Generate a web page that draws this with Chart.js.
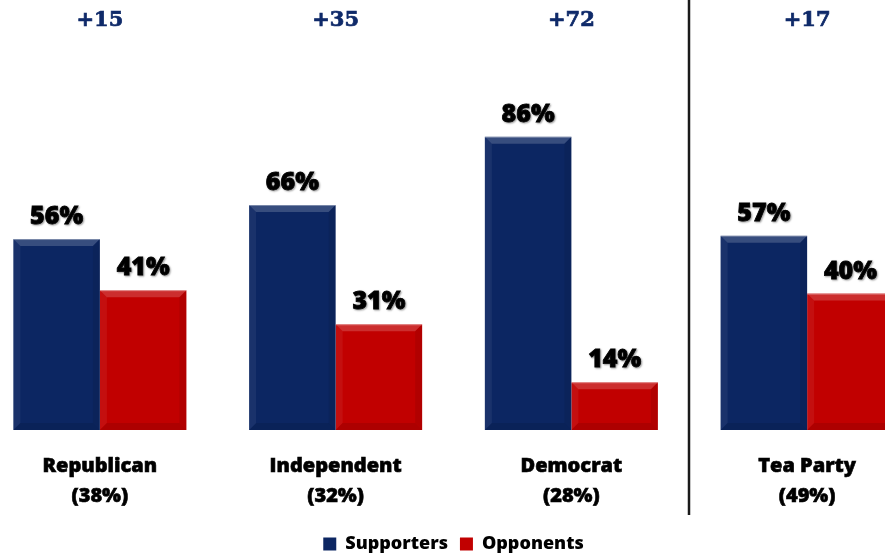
<!DOCTYPE html>
<html>
<head>
<meta charset="utf-8">
<script src="https://cdn.jsdelivr.net/npm/chart.js@4.4.1/dist/chart.umd.min.js"></script>
<style>
  html, body { margin: 0; padding: 0; background: #fff; overflow: hidden; }
  #wrap { position: absolute; left: -18px; top: 0; width: 943px; height: 556px; }
</style>
</head>
<body>
<div id="wrap"><canvas id="c"></canvas></div>
<script>
const categories = [['Republican', '(38%)'], ['Independent', '(32%)'], ['Democrat', '(28%)'], ['Tea Party', '(49%)']];
const supporters = [56, 66, 86, 57];
const opponents = [41, 31, 14, 40];
const margins = ['+15', '+35', '+72', '+17'];
const seriesNames = ['Supporters', 'Opponents'];

const BLUE = '#0c2662';
const RED = '#c10000';
const FONT = '"Open Sans", sans-serif';

const bevelPlugin = {
  id: 'bevel',
  afterDatasetsDraw(chart) {
    const ctx = chart.ctx;
    chart.data.datasets.forEach((ds, di) => {
      const meta = chart.getDatasetMeta(di);
      meta.data.forEach((bar, idx) => {
        const w = bar.width;
        const l = bar.x - w / 2, r = bar.x + w / 2, t = bar.y, b = bar.base;
        const s = 7;
        ctx.save();
        ctx.fillStyle = 'rgba(255,255,255,0.18)';
        ctx.beginPath();
        ctx.moveTo(l, t); ctx.lineTo(r, t); ctx.lineTo(r - s, t + s); ctx.lineTo(l + s, t + s); ctx.closePath();
        ctx.fill();
        ctx.fillStyle = 'rgba(255,255,255,0.06)';
        ctx.beginPath();
        ctx.moveTo(l, t); ctx.lineTo(l + s, t + s); ctx.lineTo(l + s, b - s); ctx.lineTo(l, b); ctx.closePath();
        ctx.fill();
        ctx.fillStyle = 'rgba(0,0,0,0.08)';
        ctx.beginPath();
        ctx.moveTo(r, t); ctx.lineTo(r - s, t + s); ctx.lineTo(r - s, b - s); ctx.lineTo(r, b); ctx.closePath();
        ctx.fill();
        ctx.fillStyle = 'rgba(0,0,0,0.10)';
        ctx.beginPath();
        ctx.moveTo(l, b); ctx.lineTo(l + s, b - s); ctx.lineTo(r - s, b - s); ctx.lineTo(r, b); ctx.closePath();
        ctx.fill();
        ctx.strokeStyle = 'rgba(255,255,255,0.35)';
        ctx.lineWidth = 1;
        ctx.beginPath(); ctx.moveTo(l, t + 0.5); ctx.lineTo(r, t + 0.5); ctx.stroke();
        ctx.restore();

        const v = ds.data[idx];
        ctx.save();
        ctx.font = '800 25px ' + FONT;
        ctx.fillStyle = '#000';
        ctx.strokeStyle = '#000';
        ctx.lineWidth = 0.8;
        ctx.textAlign = 'center';
        ctx.textBaseline = 'middle';
        ctx.shadowColor = 'rgba(0,0,0,0.35)';
        ctx.shadowBlur = 2;
        ctx.shadowOffsetX = 1;
        ctx.shadowOffsetY = 1;
        ctx.fillText(v + '%', bar.x, t - 22);
        ctx.strokeText(v + '%', bar.x, t - 22);
        ctx.restore();
      });
    });
  },
  afterDraw(chart) {
    const ctx = chart.ctx;
    const xs = chart.scales.x;
    ctx.save();
    ctx.font = 'bold 21px "DejaVu Serif", serif';
    ctx.fillStyle = '#0f2a69';
    ctx.strokeStyle = '#0f2a69';
    ctx.lineWidth = 0.7;
    ctx.textAlign = 'center';
    ctx.textBaseline = 'middle';
    margins.forEach((m, i) => {
      ctx.fillText(m, xs.getPixelForValue(i), 21);
      ctx.strokeText(m, xs.getPixelForValue(i), 21);
    });
    const sx = Math.round((xs.getPixelForValue(2) + xs.getPixelForValue(3)) / 2);
    ctx.strokeStyle = '#1a1a1a';
    ctx.lineWidth = 2.5;
    ctx.beginPath();
    ctx.moveTo(sx, 0);
    ctx.lineTo(sx, 515);
    ctx.stroke();
    ctx.restore();
  }
};

new Chart(document.getElementById('c'), {
  type: 'bar',
  data: {
    labels: categories,
    datasets: [
      { label: seriesNames[0], data: supporters, backgroundColor: BLUE },
      { label: seriesNames[1], data: opponents, backgroundColor: RED }
    ]
  },
  options: {
    responsive: true,
    maintainAspectRatio: false,
    animation: false,
    layout: { padding: { top: 89, bottom: -7, left: 0, right: 0 } },
    datasets: { bar: { categoryPercentage: 0.734, barPercentage: 1.0 } },
    scales: {
      x: {
        grid: { display: false, drawTicks: false },
        border: { display: false },
        ticks: {
          color: '#000',
          textStrokeColor: '#000',
          textStrokeWidth: 0.6,
          font: { family: FONT, size: 20, weight: 800, lineHeight: 1.5 },
          padding: 21,
          maxRotation: 0,
          autoSkip: false
        },
        afterFit(axis) { axis.height = 93; }
      },
      y: {
        display: false,
        min: 0,
        max: 100
      }
    },
    plugins: {
      legend: {
        position: 'bottom',
        labels: {
          color: '#000',
          font: { family: FONT, size: 18, weight: 800 },
          boxWidth: 13,
          boxHeight: 13,
          padding: 12
        }
      },
      tooltip: { enabled: false }
    }
  },
  plugins: [bevelPlugin]
});
</script>
</body>
</html>
